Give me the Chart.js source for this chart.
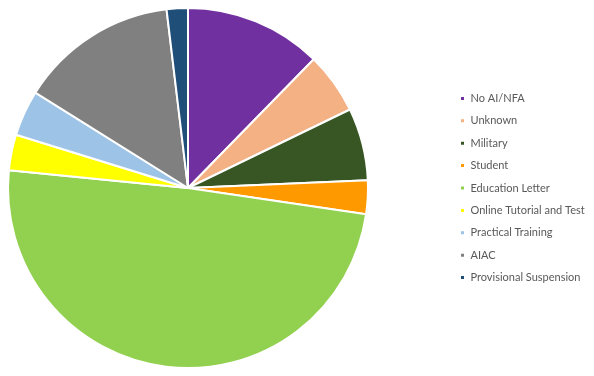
<!DOCTYPE html>
<html>
<head>
<meta charset="utf-8">
<script src="https://cdn.jsdelivr.net/npm/chart.js@4/dist/chart.umd.min.js"></script>
<style>
html,body{margin:0;padding:0;background:#fff;}
#wrap{width:594px;height:376px;position:relative;}
</style>
</head>
<body>
<div id="wrap"><canvas id="c" width="594" height="376"></canvas></div>
<script>
const categories = ["No AI/NFA","Unknown","Military","Student","Education Letter","Online Tutorial and Test","Practical Training","AIAC","Provisional Suspension"];
const values = [12.3, 5.5, 6.5, 3.0, 49.2, 3.2, 4.1, 14.2, 1.9];
const colors = ["#7030A0","#F4B183","#375623","#FF9900","#92D050","#FFFF00","#9DC3E6","#808080","#1F4E79"];

const LEG_PAD = 11.4;
const placePlugin = {
  id: 'place',
  afterLayout(chart) {
    const ca = chart.chartArea;
    ca.left = 7; ca.top = 7; ca.right = 369; ca.bottom = 369;
    ca.width = 362; ca.height = 362;
    const lg = chart.legend;
    if (lg) {
      lg.left = 460 - LEG_PAD; lg.right = 594; lg.width = lg.right - lg.left;
    }
  }
};

new Chart(document.getElementById('c'), {
  type: 'pie',
  data: {
    labels: categories,
    datasets: [{
      data: values,
      backgroundColor: colors,
      borderColor: '#ffffff',
      borderWidth: 2
    }]
  },
  options: {
    responsive: false,
    animation: false,
    layout: { padding: 0 },
    plugins: {
      tooltip: { enabled: false },
      legend: {
        position: 'right',
        align: 'center',
        labels: {
          boxWidth: 5,
          boxHeight: 5,
          padding: LEG_PAD,
          color: '#595959',
          font: { family: "Lato, 'Liberation Sans', sans-serif", size: 11 }
        }
      }
    }
  },
  plugins: [placePlugin]
});
</script>
</body>
</html>
